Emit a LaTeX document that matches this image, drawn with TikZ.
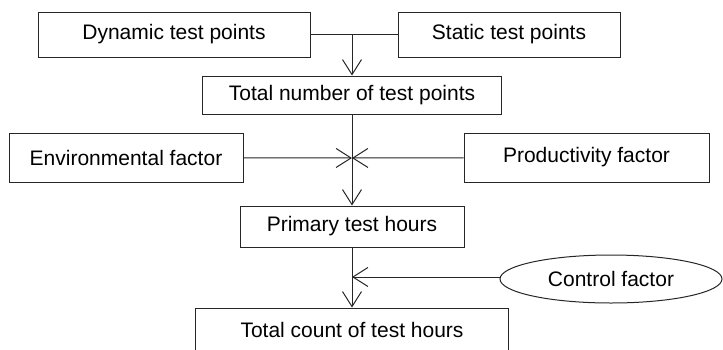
\documentclass[tikz,border=0pt]{standalone}
\usepackage{fontspec}
\setmainfont{Liberation Sans}
\usetikzlibrary{arrows.meta}
\usetikzlibrary{shapes.geometric}
\tikzset{
  box/.style={draw=black!85, line width=1pt, inner sep=0pt,
    font=\fontsize{21}{25}\selectfont},
  oval/.style={box, ellipse},
  link/.style={draw=black!85, line width=1pt}
}

\begin{document}
\begin{tikzpicture}[x=1pt, y=-1pt,
% open arrow heads for all links
-{Straight Barb[length=15pt, width=19pt]}]
\useasboundingbox (0,0) rectangle (723,349);
% boxes
\node[box, minimum width=272pt, minimum height=45pt] (dynpts) at (174,34.5) {Dynamic test points};
\node[box, minimum width=222pt, minimum height=45pt] (statpts) at (509,34.5) {Static test points};
\node[box, minimum width=299pt, minimum height=38pt] (totpts) at (352,95) {Total number of test points};
\node[box, minimum width=234pt, minimum height=49pt] (envfac) at (126,157.5) {Environmental factor};
\node[box, minimum width=245pt, minimum height=49pt] (prodfac) at (586.5,157.5) {Productivity factor};
\node[box, minimum width=224pt, minimum height=41pt] (primhrs) at (352,226.5) {Primary test hours};
\node[oval, minimum width=222pt, minimum height=48pt] (ctrlfac) at (611,279) {Control factor};
\node[box, minimum width=313pt, minimum height=44pt] (counthrs) at (352,330) {Total count of test hours};
% junctions on the trunk
\coordinate (join) at (352,34.5);
\coordinate (hub) at (352,158);
\coordinate (ctrljoin) at (352,277);
% links
\draw[link, -] (dynpts) -- (statpts);
\draw[link] (join) -- (totpts);
\draw[link, -] (totpts) -- (hub);
\draw[link] (envfac) -- (hub);
\draw[link] (prodfac) -- (hub);
\draw[link] (hub) -- (primhrs);
\draw[link] (primhrs) -- (counthrs);
\draw[link] (ctrlfac.west |- ctrljoin) -- (ctrljoin);
\end{tikzpicture}
\end{document}
